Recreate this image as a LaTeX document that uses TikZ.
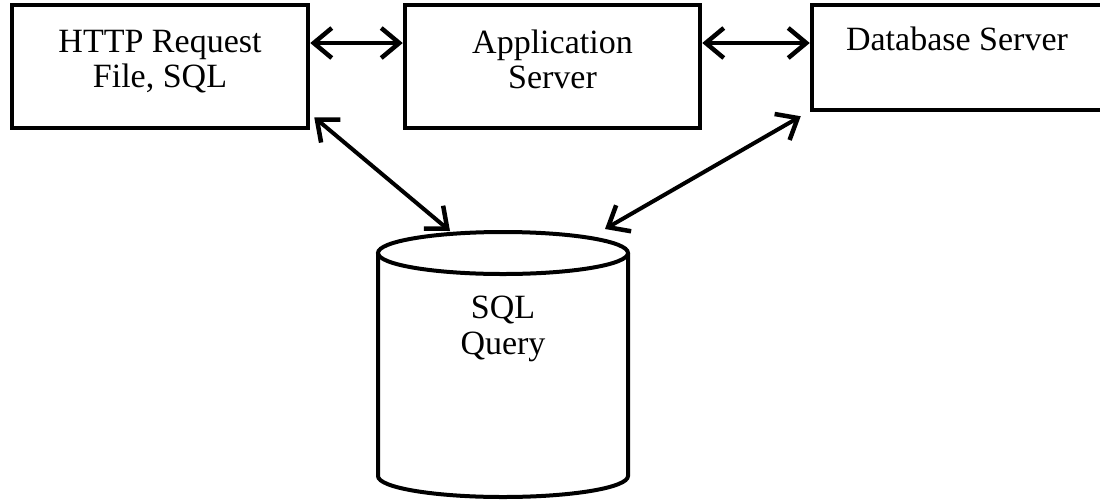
\documentclass[tikz,border=0pt]{standalone}
\usepackage{fontspec}
\setmainfont{Liberation Serif}
\usetikzlibrary{arrows.meta,calc}
\begin{document}
\begin{tikzpicture}[x=1pt,y=1pt,
  box/.style={draw=black,line width=4.5pt,fill=white,rectangle,inner sep=0pt},
  lbl/.style={inner sep=0pt,align=center,font=\fontsize{34}{35}\selectfont},
  link/.style={line width=4pt,
    arrows={Straight Barb[length=18pt,width=30pt,line width=4.5pt]-Straight Barb[length=18pt,width=30pt,line width=4.5pt]}},
  cyl/.style={draw=black,line width=4pt}
]
\useasboundingbox (0,0) rectangle (1100,-499);
\fill[white] (0,0) rectangle (1100,-499);

% top row of boxes
\node[box,minimum width=296pt,minimum height=123pt] (req) at (160,-66.5) {};
\node[lbl] (reqtext) at (160,-61.5) {HTTP Request\\File, SQL};
\node[box,minimum width=295pt,minimum height=123pt] (app) at (552.5,-66.5) {};
\node[lbl] (apptext) at (552.5,-59.5) {Application\\Server};
\node[box,minimum width=300pt,minimum height=105pt] (db) at (962,-57.5) {};
\node[lbl] (dbtext) at (957,-39) {Database Server};

% SQL query store (cylinder)
\draw[cyl,fill=white] (378,-253) -- (378,-476)
  arc[start angle=180,end angle=360,x radius=125,y radius=21] -- (628,-253);
\draw[cyl] (503,-253) ellipse [x radius=125,y radius=21];
\node[lbl,font=\fontsize{34}{36}\selectfont] (query) at (503,-329) {SQL\\Query};
\coordinate (qleft) at (450,-231);
\coordinate (qright) at (605,-229);

% connectors
\draw[link] ([yshift=23.5]req.east) -- ([yshift=23.5]app.west);
\draw[link] ([yshift=23.5]app.east) -- ([yshift=14.5]db.west);
\draw[link] ([shift={(4,13)}]req.south east) -- (qleft);
\draw[link] ([shift={(-9,-4)}]db.south west) -- (qright);
\end{tikzpicture}
\end{document}
